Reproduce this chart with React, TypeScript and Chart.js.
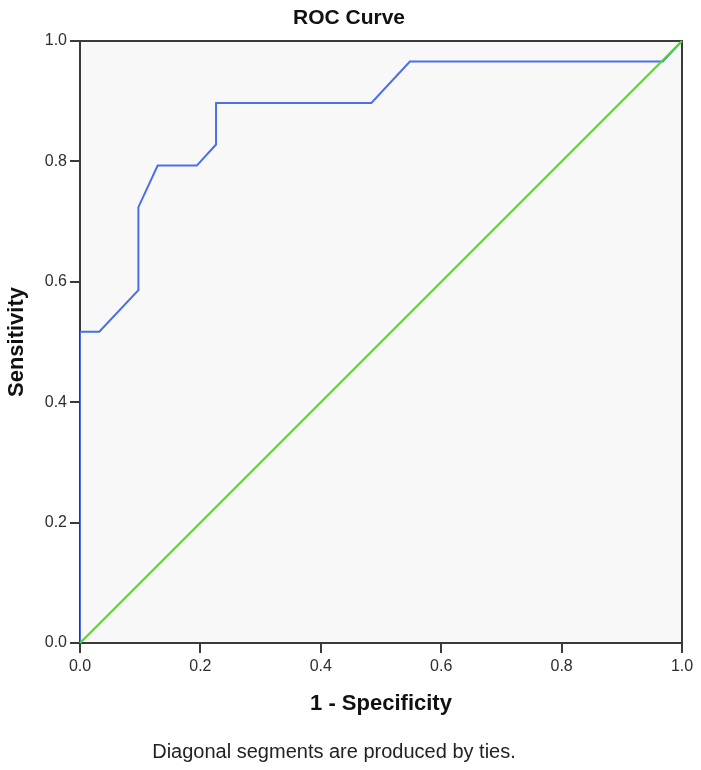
import React, { useEffect, useRef } from "react";
import { Chart, registerables } from "chart.js";

Chart.register(...registerables);

const fprValues = [0, 0, 0.032, 0.097, 0.097, 0.129, 0.194, 0.226, 0.226, 0.484, 0.548, 0.968, 1];
const tprValues = [0, 0.517, 0.517, 0.586, 0.724, 0.793, 0.793, 0.828, 0.897, 0.897, 0.966, 0.966, 1];
const diagX = [0, 1];
const diagY = [0, 1];
const tickValues = [0, 0.2, 0.4, 0.6, 0.8, 1.0];

const chartTitle = "ROC Curve";
const xTitle = "1 - Specificity";
const yTitle = "Sensitivity";
const footnote = "Diagonal segments are produced by ties.";

const FONT = '"Liberation Sans", Arial, Helvetica, sans-serif';

const decorPlugin = {
  id: "decor",
  beforeDraw(chart: any) {
    const { ctx, chartArea: a } = chart;
    ctx.save();
    ctx.fillStyle = "#ffffff";
    ctx.fillRect(0, 0, chart.width, chart.height);
    ctx.fillStyle = "#f7f8f7";
    ctx.fillRect(a.left, a.top, a.right - a.left, a.bottom - a.top);
    ctx.restore();
  },
  beforeDatasetsDraw(chart: any) {
    const { ctx, chartArea: a } = chart;
    ctx.save();
    ctx.strokeStyle = "#3a3a3a";
    ctx.lineWidth = 2;
    ctx.beginPath();
    ctx.moveTo(a.left, a.top);
    ctx.lineTo(a.right, a.top);
    ctx.lineTo(a.right, a.bottom);
    ctx.stroke();
    ctx.restore();
  },
  afterDraw(chart: any) {
    const { ctx, chartArea: a } = chart;
    ctx.save();
    ctx.fillStyle = "#111111";
    ctx.textAlign = "center";
    ctx.textBaseline = "middle";
    ctx.font = `bold 21px ${FONT}`;
    ctx.fillText(chartTitle, 349, 18);
    ctx.font = `bold 22px ${FONT}`;
    ctx.fillText(xTitle, (a.left + a.right) / 2, 704);
    ctx.save();
    ctx.translate(17, (a.top + a.bottom) / 2);
    ctx.rotate(-Math.PI / 2);
    ctx.fillText(yTitle, 0, 0);
    ctx.restore();
    ctx.fillStyle = "#222222";
    ctx.font = `20px ${FONT}`;
    ctx.fillText(footnote, 334, 752);
    ctx.restore();
  },
};

export default function App() {
  const ref = useRef<HTMLCanvasElement | null>(null);

  useEffect(() => {
    if (!ref.current) return;
    const rocData = fprValues.map((x, i) => ({ x, y: tprValues[i] }));
    const diagData = diagX.map((x, i) => ({ x, y: diagY[i] }));
    const axisCommon = {
      type: "linear" as const,
      min: 0,
      max: 1,
      grid: {
        display: true,
        drawOnChartArea: false,
        drawTicks: true,
        tickLength: 10,
        tickColor: "#3a3a3a",
        tickWidth: 2,
        color: "#3a3a3a",
        lineWidth: 2,
      },
      border: { display: true, color: "#3a3a3a", width: 2 },
      title: { display: false },
    };
    const chart = new Chart(ref.current, {
      type: "scatter",
      data: {
        datasets: [
          {
            label: "Reference Line",
            data: diagData,
            showLine: true,
            borderColor: "#45e610",
            borderWidth: 2,
            pointRadius: 0,
            fill: false,
            clip: 4,
          },
          {
            label: "ROC",
            data: rocData,
            showLine: true,
            borderColor: "#4a6fe6",
            borderWidth: 2,
            pointRadius: 0,
            fill: false,
            tension: 0,
            clip: 0,
          },
        ],
      },
      options: {
        responsive: false,
        animation: false,
        layout: { padding: { left: 0, top: 41, right: 19, bottom: 0 } },
        plugins: {
          legend: { display: false },
          tooltip: { enabled: false },
          title: { display: false },
        },
        scales: {
          x: {
            ...axisCommon,
            position: "bottom",
            afterFit(scale: any) {
              scale.height = 127;
            },
            afterBuildTicks(scale: any) {
              scale.ticks = tickValues.map((v) => ({ value: v }));
            },
            ticks: {
              padding: 4,
              color: "#2e2e2e",
              font: { size: 16, family: FONT },
              callback: (v: any) => Number(v).toFixed(1),
            },
          },
          y: {
            ...axisCommon,
            position: "left",
            afterFit(scale: any) {
              scale.width = 80;
            },
            afterBuildTicks(scale: any) {
              scale.ticks = tickValues.map((v) => ({ value: v }));
            },
            ticks: {
              padding: 3,
              color: "#2e2e2e",
              font: { size: 16, family: FONT },
              callback: (v: any) => Number(v).toFixed(1),
            },
          },
        },
      },
      plugins: [decorPlugin],
    });
    return () => chart.destroy();
  }, []);

  return (
    <div style={{ position: "fixed", left: 0, top: 0, width: 701, height: 770, background: "#fff" }}>
      <canvas ref={ref} width={701} height={770} style={{ display: "block", width: 701, height: 770 }} />
    </div>
  );
}
